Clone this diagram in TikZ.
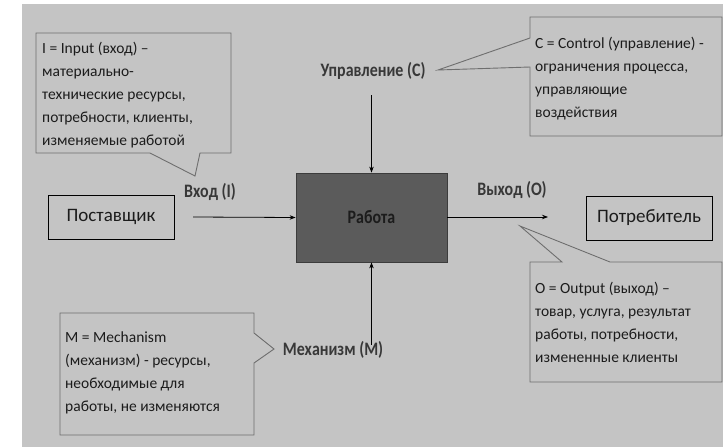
\documentclass[tikz,border=0pt]{standalone}
\usepackage{fontspec}
\setmainfont{Carlito}
\newfontfamily\lblfont{Carlito}[FakeStretch=0.84]
\usetikzlibrary{arrows.meta}
\definecolor{bg}{HTML}{C4C4C4}
\definecolor{workfill}{HTML}{5B5B5B}
\definecolor{workdraw}{HTML}{3C3C3C}
\definecolor{callline}{HTML}{6E6E6E}
\definecolor{txt}{HTML}{1C1C1C}
\definecolor{lbltxt}{HTML}{383838}
\begin{document}
\begin{tikzpicture}[x=1pt,y=-1pt,
  plainbox/.style={draw=black, line width=1pt, inner sep=0pt, text=txt, font=\fontsize{19}{22}\selectfont},
  workbox/.style={draw=workdraw, fill=workfill, line width=0.8pt, inner sep=0pt, text=txt, font=\lblfont\bfseries\fontsize{19}{22}\selectfont},
  lbl/.style={inner sep=0pt, text=lbltxt, font=\lblfont\bfseries\fontsize{19}{22}\selectfont},
  ctext/.style={anchor=north west, inner sep=0pt, align=left, text=txt, font=\fontsize{15.5}{23}\selectfont},
  callout/.style={draw=callline, line width=0.9pt, line join=miter},
  arr/.style={draw=black, line width=0.8pt, -{Stealth[length=6pt,width=4.5pt]}}
]
\useasboundingbox (0,0) rectangle (723,447);
\fill[bg] (22,4) rectangle (723,447);

% main boxes
\node[plainbox, minimum width=126pt, minimum height=44pt] (sup) at (111,217) {Поставщик};
\node[plainbox, minimum width=126pt, minimum height=44pt] (cons) at (649,218) {Потребитель};
\node[workbox, minimum width=151pt, minimum height=89pt] (work) at (371.5,217.5) {Работа};

% arrow ends
\coordinate (inStart) at (193,217);
\coordinate (outEnd) at (548,217);
\coordinate (ctlStart) at (371.5,95);
\coordinate (mecStart) at (371.5,345);

\draw[arr] (inStart) -- (work.west);
\draw[arr] (work.east |- outEnd) -- (outEnd);
\draw[arr] (ctlStart) -- (work.north);
\draw[arr] (mecStart) -- (work.south);

% labels
\node[lbl] (inlbl) at (210,192) {Вход (I)};
\node[lbl] (outlbl) at (512,190) {Выход (О)};
\node[lbl] (ctllbl) at (373,71) {Управление (С)};
\node[lbl] (meclbl) at (333,350) {Механизм (М)};

% callouts
\draw[callout] (36,33) -- (231,33) -- (231,153) -- (200,153) -- (195,176) -- (150,153) -- (36,153) -- cycle;
\draw[callout] (530,17) -- (722,17) -- (722,136) -- (530,136) -- (530,67) -- (438,70) -- (530,38) -- cycle;
\draw[callout] (530,262) -- (562,262) -- (520,226) -- (610,262) -- (722,262) -- (722,382) -- (530,382) -- cycle;
\draw[callout] (60,313) -- (254,313) -- (254,333) -- (274,349) -- (254,363) -- (254,435) -- (60,435) -- cycle;

\node[ctext] (intext) at (42,41.5) {I = Input (вход) –\\материально-\\технические ресурсы,\\потребности, клиенты,\\изменяемые работой};
\node[ctext] (ctltext) at (535,36.5) {С = Control (управление) -\\ограничения процесса,\\управляющие\\воздействия};
\node[ctext] (outtext) at (535,281.5) {О = Output (выход) –\\товар, услуга, результат\\работы, потребности,\\измененные клиенты};
\node[ctext] (mectext) at (65,331.5) {M = Mechanism\\(механизм) - ресурсы,\\необходимые для\\работы, не изменяются};
\end{tikzpicture}
\end{document}
